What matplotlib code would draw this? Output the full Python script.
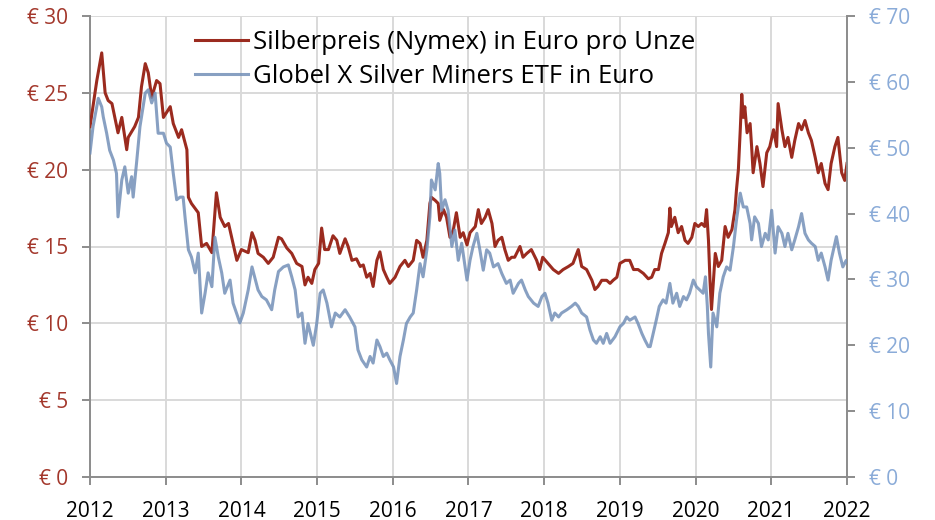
import numpy as np
import matplotlib
matplotlib.use("Agg")
import matplotlib.pyplot as plt

plt.rcParams['font.family'] = ['Open Sans', 'DejaVu Sans']

# Silberpreis (Nymex) in Euro pro Unze, left axis
silver_t = [2012.00, 2012.09, 2012.155, 2012.20, 2012.24, 2012.29, 2012.37, 2012.42, 2012.485, 2012.505,
            2012.59, 2012.64, 2012.68, 2012.73, 2012.77, 2012.815, 2012.88, 2012.925, 2012.97, 2013.06,
            2013.10, 2013.17, 2013.21, 2013.28, 2013.30, 2013.34, 2013.43, 2013.475, 2013.54, 2013.61,
            2013.67, 2013.72, 2013.78, 2013.83, 2013.89, 2013.94, 2014.00, 2014.09, 2014.14, 2014.18,
            2014.22, 2014.29, 2014.355, 2014.42, 2014.49, 2014.53, 2014.60, 2014.665, 2014.73, 2014.80,
            2014.84, 2014.88, 2014.93, 2014.97, 2015.02, 2015.06, 2015.10, 2015.15, 2015.21, 2015.26,
            2015.30, 2015.37, 2015.41, 2015.46, 2015.52, 2015.57, 2015.61, 2015.655, 2015.70, 2015.74,
            2015.79, 2015.83, 2015.875, 2015.92, 2015.96, 2016.03, 2016.095, 2016.16, 2016.205, 2016.27,
            2016.315, 2016.36, 2016.40, 2016.45, 2016.49, 2016.51, 2016.56, 2016.60, 2016.62, 2016.67,
            2016.71, 2016.755, 2016.80, 2016.84, 2016.89, 2016.93, 2016.98, 2017.02, 2017.09, 2017.13,
            2017.17, 2017.22, 2017.26, 2017.31, 2017.35, 2017.39, 2017.44, 2017.48, 2017.525, 2017.57,
            2017.61, 2017.68, 2017.72, 2017.77, 2017.83, 2017.90, 2017.94, 2017.98, 2018.05, 2018.12,
            2018.19, 2018.25, 2018.32, 2018.38, 2018.45, 2018.495, 2018.56, 2018.63, 2018.67, 2018.71,
            2018.76, 2018.825, 2018.87, 2018.91, 2018.96, 2019.00, 2019.07, 2019.13, 2019.18, 2019.24,
            2019.31, 2019.375, 2019.42, 2019.46, 2019.51, 2019.55, 2019.595, 2019.64, 2019.66, 2019.68,
            2019.725, 2019.77, 2019.815, 2019.86, 2019.90, 2019.95, 2019.99, 2020.035, 2020.08, 2020.12,
            2020.145, 2020.17, 2020.19, 2020.21, 2020.26, 2020.30, 2020.345, 2020.39, 2020.43, 2020.48,
            2020.52, 2020.54, 2020.565, 2020.59, 2020.61, 2020.63, 2020.65, 2020.68, 2020.72, 2020.74,
            2020.76, 2020.81, 2020.85, 2020.89, 2020.94, 2020.98, 2021.03, 2021.07, 2021.09, 2021.14,
            2021.18, 2021.22, 2021.27, 2021.31, 2021.36, 2021.40, 2021.445, 2021.49, 2021.53, 2021.58,
            2021.62, 2021.66, 2021.71, 2021.75, 2021.79, 2021.84, 2021.88, 2021.93, 2021.97, 2022.00]
silver_v = [22.8, 25.8, 27.6, 25.0, 24.5, 24.3, 22.4, 23.4, 21.3, 22.1,
            22.8, 23.4, 25.4, 26.9, 26.3, 24.7, 25.8, 25.6, 23.4, 24.1,
            23.0, 22.1, 22.6, 21.3, 18.2, 17.8, 17.2, 15.0, 15.2, 14.6,
            18.5, 16.9, 16.3, 16.5, 15.2, 14.1, 14.8, 14.6, 15.9, 15.4,
            14.55, 14.3, 13.9, 14.3, 15.6, 15.5, 14.9, 14.55, 13.9, 13.7,
            12.5, 13.0, 12.6, 13.5, 13.9, 16.2, 14.8, 14.8, 15.7, 15.4,
            14.55, 15.5, 15.0, 14.1, 14.2, 13.7, 13.8, 13.0, 13.25, 12.4,
            14.1, 14.65, 13.5, 13.0, 12.6, 13.0, 13.7, 14.1, 13.7, 14.1,
            15.4, 15.2, 14.3, 15.4, 17.8, 18.2, 18.0, 17.8, 16.7, 17.4,
            16.9, 15.6, 16.1, 17.2, 15.6, 15.9, 15.1, 15.9, 16.3, 17.4,
            16.5, 16.9, 17.4, 16.5, 15.0, 15.4, 15.6, 14.8, 14.1, 14.3,
            14.3, 15.0, 14.3, 14.55, 14.8, 14.1, 13.5, 14.3, 13.9, 13.5,
            13.25, 13.5, 13.7, 13.9, 14.8, 13.7, 13.5, 12.8, 12.2, 12.4,
            12.8, 12.8, 12.6, 12.8, 13.0, 13.9, 14.1, 14.1, 13.5, 13.5,
            13.25, 12.9, 13.0, 13.5, 13.5, 14.55, 15.2, 15.9, 17.5, 16.3,
            16.9, 15.9, 16.3, 15.4, 15.2, 15.6, 16.5, 16.3, 16.5, 16.3,
            17.4, 15.4, 12.8, 10.9, 14.55, 13.7, 14.1, 16.3, 15.6, 16.1,
            17.4, 18.7, 20.0, 22.6, 24.9, 23.4, 24.1, 22.4, 23.0, 21.5,
            19.8, 21.5, 20.4, 18.9, 21.1, 21.5, 22.6, 21.5, 24.3, 22.6,
            21.5, 22.1, 20.8, 21.9, 23.0, 22.6, 23.2, 22.4, 21.9, 20.8,
            19.8, 20.4, 19.1, 18.7, 20.4, 21.5, 22.1, 19.8, 19.3, 20.4]

# Globel X Silver Miners ETF in Euro, right axis
etf_t = [2012.00, 2012.04, 2012.11, 2012.155, 2012.175, 2012.22, 2012.26, 2012.31, 2012.35, 2012.37,
         2012.42, 2012.46, 2012.505, 2012.55, 2012.57, 2012.615, 2012.66, 2012.73, 2012.77, 2012.815,
         2012.86, 2012.90, 2012.97, 2013.01, 2013.06, 2013.10, 2013.145, 2013.19, 2013.23, 2013.255,
         2013.30, 2013.34, 2013.39, 2013.43, 2013.475, 2013.52, 2013.56, 2013.61, 2013.65, 2013.695,
         2013.74, 2013.78, 2013.85, 2013.89, 2013.98, 2014.025, 2014.09, 2014.14, 2014.22, 2014.27,
         2014.33, 2014.40, 2014.44, 2014.49, 2014.555, 2014.62, 2014.665, 2014.71, 2014.75, 2014.80,
         2014.84, 2014.88, 2014.95, 2014.995, 2015.04, 2015.08, 2015.13, 2015.19, 2015.24, 2015.30,
         2015.37, 2015.43, 2015.50, 2015.54, 2015.59, 2015.655, 2015.70, 2015.74, 2015.79, 2015.83,
         2015.875, 2015.92, 2015.96, 2016.01, 2016.05, 2016.095, 2016.14, 2016.18, 2016.23, 2016.27,
         2016.315, 2016.36, 2016.40, 2016.45, 2016.49, 2016.51, 2016.56, 2016.60, 2016.62, 2016.645,
         2016.69, 2016.73, 2016.78, 2016.82, 2016.865, 2016.91, 2016.98, 2017.02, 2017.06, 2017.11,
         2017.15, 2017.195, 2017.24, 2017.28, 2017.33, 2017.39, 2017.44, 2017.50, 2017.55, 2017.59,
         2017.66, 2017.70, 2017.75, 2017.79, 2017.86, 2017.92, 2017.97, 2018.01, 2018.05, 2018.10,
         2018.14, 2018.19, 2018.23, 2018.30, 2018.36, 2018.41, 2018.45, 2018.495, 2018.56, 2018.605,
         2018.65, 2018.69, 2018.74, 2018.78, 2018.825, 2018.87, 2018.935, 2019.00, 2019.045, 2019.09,
         2019.13, 2019.20, 2019.24, 2019.29, 2019.33, 2019.375, 2019.40, 2019.44, 2019.48, 2019.52,
         2019.57, 2019.61, 2019.66, 2019.70, 2019.75, 2019.79, 2019.84, 2019.88, 2019.92, 2019.97,
         2020.01, 2020.055, 2020.10, 2020.13, 2020.155, 2020.17, 2020.20, 2020.23, 2020.28, 2020.32,
         2020.365, 2020.41, 2020.455, 2020.50, 2020.54, 2020.59, 2020.63, 2020.675, 2020.72, 2020.74,
         2020.78, 2020.83, 2020.87, 2020.92, 2020.96, 2021.005, 2021.05, 2021.09, 2021.14, 2021.18,
         2021.22, 2021.27, 2021.31, 2021.36, 2021.40, 2021.445, 2021.49, 2021.53, 2021.58, 2021.62,
         2021.66, 2021.71, 2021.75, 2021.79, 2021.84, 2021.86, 2021.90, 2021.945, 2021.99, 2022.00]
etf_v = [49.2, 53.2, 57.5, 56.2, 54.7, 52.2, 49.6, 48.1, 46.1, 39.5,
         45.1, 47.1, 43.1, 45.6, 42.5, 47.7, 53.2, 58.3, 58.8, 56.8,
         58.3, 52.2, 52.2, 50.7, 50.1, 46.1, 42.1, 42.5, 42.5, 39.5,
         34.5, 33.4, 31.0, 34.0, 24.9, 27.9, 31.0, 28.9, 36.4, 33.4,
         31.0, 27.9, 29.9, 26.4, 23.4, 24.9, 28.4, 31.9, 28.4, 27.4,
         26.9, 25.4, 28.4, 31.2, 31.9, 32.2, 30.4, 28.4, 24.3, 24.9,
         20.3, 23.3, 20.0, 23.3, 27.9, 28.4, 26.4, 22.8, 24.9, 24.3,
         25.4, 24.3, 22.8, 19.3, 17.8, 16.7, 18.3, 17.3, 20.8, 19.8,
         18.3, 18.8, 17.8, 16.7, 14.2, 18.3, 20.8, 23.3, 24.3, 24.9,
         28.4, 32.4, 30.4, 34.5, 39.5, 45.1, 43.6, 47.6, 46.1, 40.5,
         42.1, 40.5, 35.0, 37.5, 32.9, 35.5, 29.9, 32.9, 35.0, 37.0,
         34.5, 31.4, 34.5, 34.0, 31.9, 32.4, 30.9, 29.4, 29.9, 27.9,
         29.4, 29.9, 28.4, 27.4, 26.4, 25.9, 27.4, 27.9, 26.4, 23.8,
         24.9, 24.3, 24.9, 25.4, 25.9, 26.4, 25.9, 24.9, 24.3, 22.3,
         20.8, 20.3, 21.3, 20.3, 21.8, 20.3, 21.3, 22.8, 23.3, 24.3,
         23.8, 24.3, 23.3, 21.8, 20.8, 19.8, 19.8, 21.8, 23.8, 25.9,
         26.9, 26.4, 29.4, 26.4, 27.9, 25.9, 27.4, 26.9, 27.9, 29.9,
         28.9, 28.4, 27.9, 30.4, 25.9, 21.8, 16.7, 24.9, 22.8, 27.9,
         30.4, 31.9, 31.4, 35.0, 39.0, 43.1, 41.0, 41.0, 38.5, 36.0,
         39.5, 38.5, 35.0, 37.0, 36.0, 40.5, 34.0, 38.0, 37.0, 35.0,
         37.0, 34.5, 36.0, 38.0, 40.0, 37.0, 36.0, 35.5, 35.0, 32.9,
         34.0, 31.9, 29.9, 32.9, 35.5, 36.5, 34.0, 31.9, 32.9, 32.6]

years = list(range(2012, 2023))
left_ticks = [0, 5, 10, 15, 20, 25, 30]
right_ticks = [0, 10, 20, 30, 40, 50, 60, 70]

red = '#9b2b1f'
blue = '#7390b8'
red_txt = '#a3372b'
blue_txt = '#8aabd8'
axis_grey = '#8c8c8c'

fig = plt.figure(figsize=(9.35, 5.2), dpi=100)
ax = fig.add_axes([90/935, 43/520, 757/935, 461/520])
ax2 = ax.twinx()

l1, = ax.plot(silver_t, silver_v, color=red, lw=2.2, zorder=3)
l2, = ax2.plot(etf_t, etf_v, color=blue, lw=2.2, alpha=0.85, zorder=3)

ax.set_xlim(2012, 2022)
ax.set_ylim(0, 30)
ax2.set_ylim(0, 70)

ax.set_xticks(years)
ax.set_xticklabels([str(y) for y in years])
ax.set_yticks(left_ticks)
ax.set_yticklabels(['€ %d' % v for v in left_ticks])
ax2.set_yticks(right_ticks)
ax2.set_yticklabels(['€ %d' % v for v in right_ticks])

ax.grid(True, color='#d9d9d9', lw=1.4, zorder=0)
ax.set_axisbelow(True)

for a in (ax, ax2):
    a.spines['top'].set_visible(False)
    for s in ('left', 'right', 'bottom'):
        a.spines[s].set_color(axis_grey)
        a.spines[s].set_linewidth(1.4)
ax.spines['right'].set_visible(False)
ax2.spines['left'].set_visible(False)
ax2.spines['bottom'].set_visible(False)

ax.tick_params(axis='x', length=6, width=1.4, color=axis_grey, labelsize=15, pad=11, labelcolor='black')
ax.tick_params(axis='y', length=6, width=1.4, color=axis_grey, labelsize=15, pad=10, labelcolor=red_txt)
ax2.tick_params(axis='y', length=6, width=1.4, color=axis_grey, labelsize=15, pad=10, labelcolor=blue_txt)

fig.legend([l1, l2], ['Silberpreis (Nymex) in Euro pro Unze', 'Globel X Silver Miners ETF in Euro'],
           loc='upper left', bbox_to_anchor=(195/935, 1 - 30/520), frameon=False,
           fontsize=18.5, handlelength=2.06, handletextpad=0.2, labelspacing=0.34, borderpad=0,
           borderaxespad=0)

fig.savefig('out.png', dpi=100)
